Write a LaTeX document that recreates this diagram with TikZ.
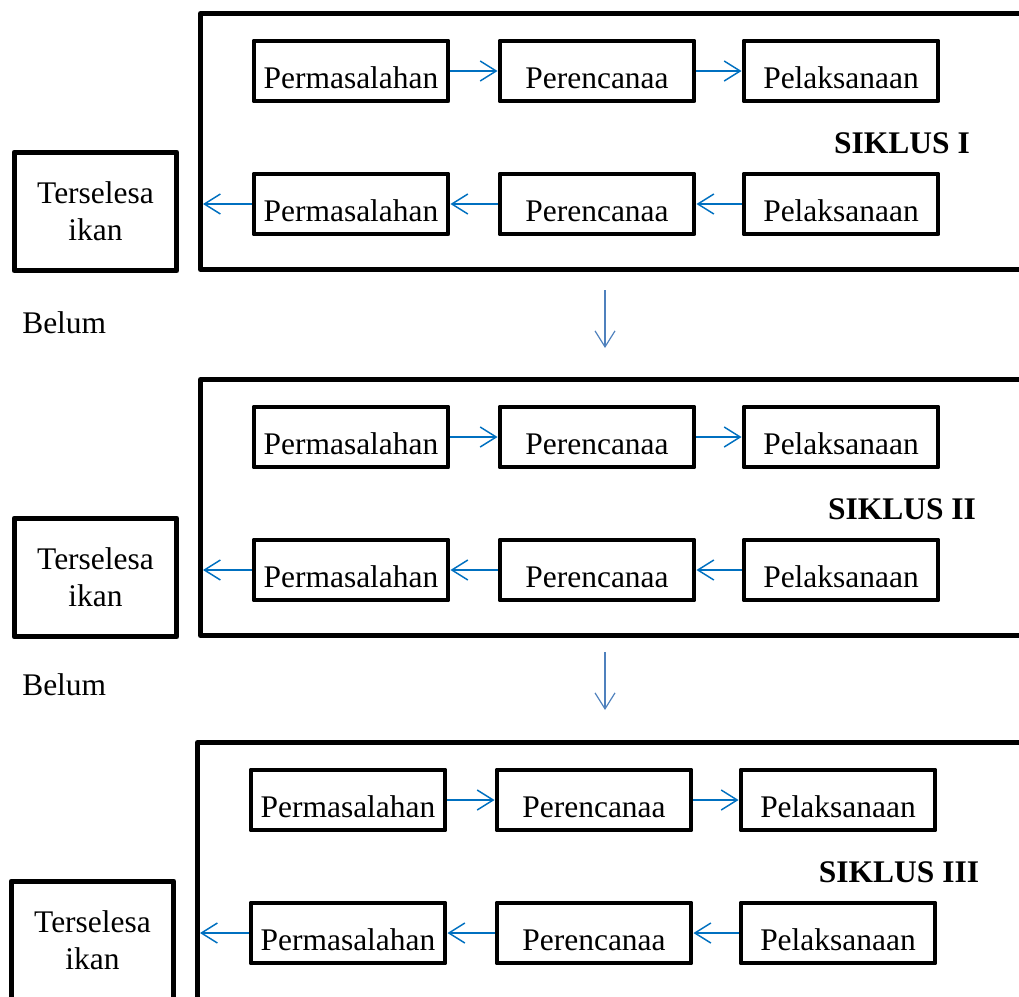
\documentclass[tikz,border=0pt]{standalone}
\usepackage{fontspec}
\setmainfont{Liberation Serif}
\usetikzlibrary{arrows.meta}
\definecolor{flowblue}{HTML}{0070C0}
\definecolor{nextblue}{HTML}{4F81BD}
\tikzset{
  stepbox/.style={draw, line width=3.7pt, line join=round, minimum width=145.5pt,
    minimum height=45pt, inner sep=0pt, text height=25.5pt, text depth=0pt},
  donebox/.style={draw, line width=3.7pt, line join=round, minimum width=122pt,
    minimum height=89pt, inner sep=0pt, align=center},
  flow/.style={draw=flowblue, line width=1.1pt, -{Straight Barb[length=12pt,width=15pt]}},
  next/.style={draw=nextblue, line width=0.9pt, -{Straight Barb[length=12pt,width=15pt]}},
}
\begin{document}
\begin{tikzpicture}[x=0.75pt, y=-0.75pt, font=\fontsize{23.6}{27.75}\selectfont]
    \useasboundingbox (0,0) rectangle (1019,996);
    \clip (0,0) rectangle (1019,996);
    \foreach \k/\off/\dx/\bawah/\nama in {1/0/0/269.5/I, 2/366/0/269.5/II, 3/729/-3/290/III} {
        % kotak siklus
        \draw[line width=3.7pt, line join=round] (1040,13.5+\off) -- (200.5+\dx,13.5+\off)
            -- (200.5+\dx,\bawah+\off) -- (1040,\bawah+\off);
        \node[stepbox] (pa\k) at (351+\dx,71+\off) {Permasalahan};
        \node[stepbox] (pc\k) at (597+\dx,71+\off) {Perencanaa};
        \node[stepbox] (pl\k) at (841+\dx,71+\off) {Pelaksanaan};
        \node[stepbox] (qa\k) at (351+\dx,204+\off) {Permasalahan};
        \node[stepbox] (qc\k) at (597+\dx,204+\off) {Perencanaa};
        \node[stepbox] (ql\k) at (841+\dx,204+\off) {Pelaksanaan};
        \node[font=\fontsize{23.6}{27.75}\bfseries] (sk\k) at (902+\dx,143+\off) {SIKLUS \nama};
        \node[donebox] (ts\k) at (95.5+\dx,211.5+\off) {Terselesa\\ikan};
        \coordinate (tepi\k) at (203+\dx,204+\off);
        \draw[flow] (pa\k) -- (pc\k);
        \draw[flow] (pc\k) -- (pl\k);
        \draw[flow] (ql\k) -- (qc\k);
        \draw[flow] (qc\k) -- (qa\k);
        \draw[flow] (qa\k) -- (tepi\k);
    }
    \node[anchor=west, inner sep=0pt] (bl1) at (22,323) {Belum};
    \node[anchor=west, inner sep=0pt] (bl2) at (22,685) {Belum};
    \coordinate (turun1) at (605,290);
    \coordinate (sampai1) at (605,348);
    \coordinate (turun2) at (605,652);
    \coordinate (sampai2) at (605,710);
    \draw[next] (turun1) -- (sampai1);
    \draw[next] (turun2) -- (sampai2);
\end{tikzpicture}
\end{document}
